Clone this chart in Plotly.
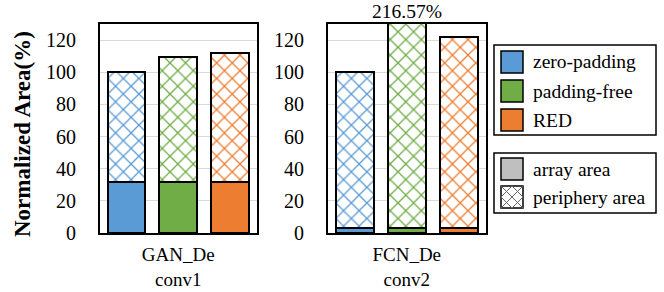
import plotly.graph_objects as go

# ---------------- data ----------------
schemes = ["zero-padding", "padding-free", "RED"]
scheme_colors = ["#5B9BD5", "#70AD47", "#ED7D31"]
layers = ["GAN_De<br>conv1", "FCN_De<br>conv2"]
array_area = {
    "GAN_De<br>conv1": [31.5, 31.5, 31.5],
    "FCN_De<br>conv2": [3.0, 3.0, 3.0],
}
total_area = {
    "GAN_De<br>conv1": [100.0, 109.5, 112.0],
    "FCN_De<br>conv2": [100.0, 216.57, 122.0],
}
area_kinds = ["array area", "periphery area"]
y_ticks = [0, 20, 40, 60, 80, 100, 120]
y_max = 130

# ---------------- layout helpers ----------------
W, H = 664, 292
def px(x):
    return x / W
def py(y):
    return 1 - y / H

FONT = "Liberation Serif"
fig = go.Figure()

domains = [(100, 257), (328, 486)]
positions = [0, 1, 2]

for i, layer in enumerate(layers):
    xa = "x" if i == 0 else "x2"
    ya = "y" if i == 0 else "y2"
    arr = array_area[layer]
    per = [t - a for t, a in zip(total_area[layer], arr)]
    fig.add_trace(go.Bar(
        x=positions, y=arr, xaxis=xa, yaxis=ya, width=0.73,
        marker=dict(color=scheme_colors, line=dict(color="black", width=2)),
        showlegend=False, hoverinfo="skip",
    ))
    fig.add_trace(go.Bar(
        x=positions, y=per, xaxis=xa, yaxis=ya, width=0.73,
        marker=dict(color="white", line=dict(color="black", width=2),
                    pattern=dict(shape="x", fgcolor=scheme_colors, bgcolor="white",
                                 fgopacity=1, size=11, solidity=0.22)),
        showlegend=False, hoverinfo="skip",
    ))

fig.update_layout(barmode="stack")

axis_common = dict(showline=True, mirror=True, linecolor="black", linewidth=2,
                   zeroline=False, automargin=False, layer="below traces")
for i, layer in enumerate(layers):
    d0, d1 = domains[i]
    xkey = "xaxis" if i == 0 else "xaxis2"
    ykey = "yaxis" if i == 0 else "yaxis2"
    fig.update_layout(**{
        xkey: dict(domain=[px(d0), px(d1)], range=[-0.51, 2.52],
                   tickvals=[1], ticktext=[layer], ticks="", showgrid=False,
                   tickfont=dict(family=FONT, size=19, color="black"),
                   ticklabelstandoff=3,
                   anchor="y" if i == 0 else "y2", **axis_common),
        ykey: dict(domain=[py(233), py(24)], range=[0, y_max],
                   tickvals=y_ticks, showgrid=True, gridcolor="#D9D9D9", gridwidth=1,
                   tickfont=dict(family=FONT, size=20, color="black"),
                   ticklabelstandoff=18,
                   anchor="x" if i == 0 else "x2", **axis_common),
    })

# y-axis title
annotations = [dict(text="<b>Normalized Area(%)</b>", x=px(22), y=py(134),
                    xref="paper", yref="paper", xanchor="center", yanchor="middle",
                    showarrow=False, textangle=-90,
                    font=dict(family=FONT, size=23, color="black"))]
# off-scale value label
over = total_area[layers[1]][1]
annotations.append(dict(text=f"{over:.2f}%", x=1, y=py(11), xref="x2", yref="paper",
                        xanchor="center", yanchor="middle", showarrow=False,
                        font=dict(family=FONT, size=19.5, color="black")))

LEG_FONT = 19.5
shapes = []
# legend 1 (schemes)
shapes.append(dict(type="rect", xref="paper", yref="paper", x0=px(494), x1=px(656),
                   y0=py(135), y1=py(45), line=dict(color="black", width=1.5),
                   fillcolor="white"))
for k, (name, col) in enumerate(zip(schemes, scheme_colors)):
    cy = 62 + 29 * k
    shapes.append(dict(type="rect", xref="paper", yref="paper", x0=px(501), x1=px(523),
                       y0=py(cy + 11), y1=py(cy - 11), line=dict(color="black", width=1.5),
                       fillcolor=col))
    annotations.append(dict(text=name, x=px(531), y=py(cy), xref="paper", yref="paper",
                            xanchor="left", yanchor="middle", showarrow=False,
                            font=dict(family=FONT, size=LEG_FONT, color="black")))
# legend 2 (area kinds)
shapes.append(dict(type="rect", xref="paper", yref="paper", x0=px(494), x1=px(656),
                   y0=py(213), y1=py(153), line=dict(color="black", width=1.5),
                   fillcolor="white"))
for k, name in enumerate(area_kinds):
    cy = 169 + 28 * k
    x0, x1, y0, y1 = 501, 523, cy - 11, cy + 11
    shapes.append(dict(type="rect", xref="paper", yref="paper", x0=px(x0), x1=px(x1),
                       y0=py(y1), y1=py(y0), line=dict(color="black", width=1.5),
                       fillcolor="#BFBFBF" if k == 0 else "white"))
    if k == 1:
        xm, ym = (x0 + x1) / 2, (y0 + y1) / 2
        for (a, b, c, d) in [(x0, y0, x1, y1), (x0, y1, x1, y0),
                             (xm, y0, x1, ym), (x1, ym, xm, y1),
                             (xm, y1, x0, ym), (x0, ym, xm, y0)]:
            shapes.append(dict(type="line", xref="paper", yref="paper",
                               x0=px(a), y0=py(b), x1=px(c), y1=py(d),
                               line=dict(color="#666666", width=1)))
    annotations.append(dict(text=name, x=px(531), y=py(cy), xref="paper", yref="paper",
                            xanchor="left", yanchor="middle", showarrow=False,
                            font=dict(family=FONT, size=LEG_FONT, color="black")))

fig.update_layout(
    width=W, height=H, margin=dict(l=0, r=0, t=0, b=0),
    paper_bgcolor="white", plot_bgcolor="white",
    annotations=annotations, shapes=shapes, showlegend=False,
    font=dict(family=FONT, color="black"),
)
fig.write_html("out.html", config={"displayModeBar": False},
               post_script="document.body.style.margin='0';document.body.style.overflow='hidden';")
